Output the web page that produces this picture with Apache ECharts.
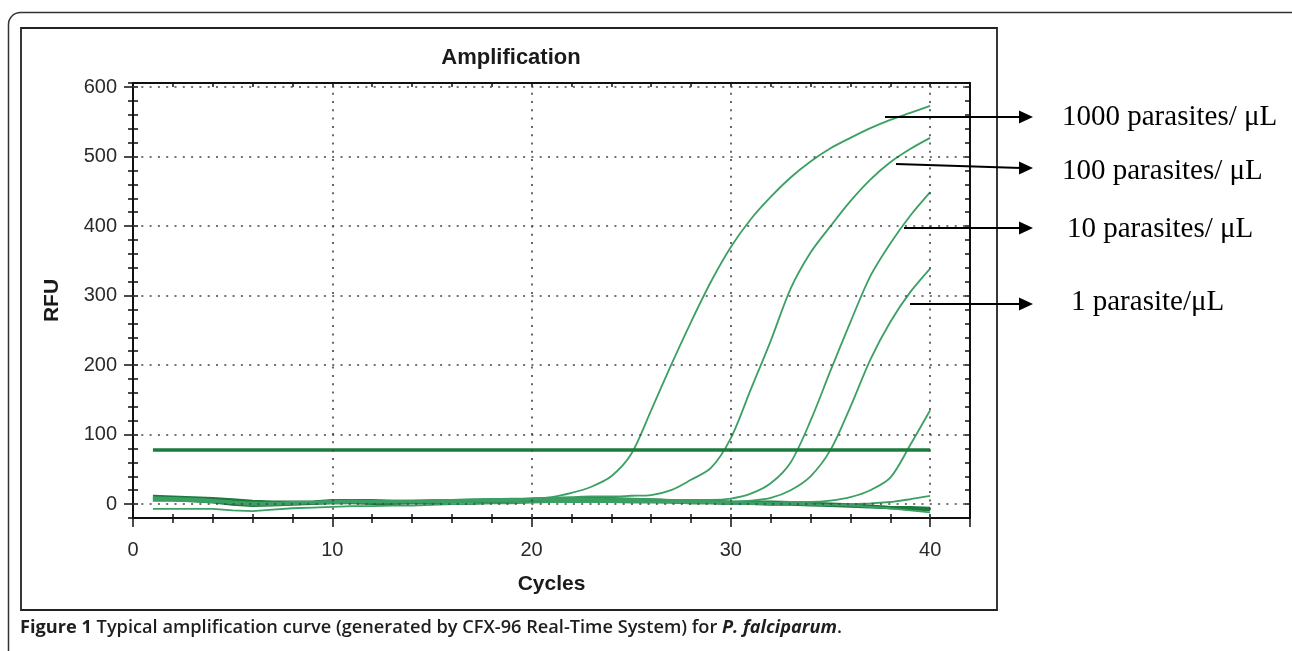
<!DOCTYPE html>
<html><head><meta charset="utf-8">
<script src="https://cdn.jsdelivr.net/npm/echarts@6/dist/echarts.min.js"></script>
<style>html,body{margin:0;padding:0;background:#fff}#c{width:1292px;height:651px}</style>
</head><body><div id="c"></div>
<script>
// ---- data ----
const cycles = [1,2,3,4,5,6,7,8,9,10,11,12,13,14,15,16,17,18,19,20,21,22,23,24,25,26,27,28,29,30,31,32,33,34,35,36,37,38,39,40];
const rfu1000 = [10,9,8,6,4,2,2,3,3,5,5,4,4,4,5,6,6,7,7,8,10,16,25,40,72,135,200,262,320,370,410,442,470,493,512,527,541,553,563,573];
const rfu100  = [8,8,7,5,3,1,1,2,3,4,4,4,3,4,5,5,6,6,7,8,9,10,11,11,12,13,20,35,52,95,165,235,310,362,400,436,467,492,511,527];
const rfu10   = [7,7,6,5,3,2,1,1,2,3,3,3,3,3,4,4,5,5,6,6,7,7,8,8,7,7,6,6,6,8,15,30,60,120,192,262,328,375,415,449];
const rfu1    = [6,6,5,4,2,0,0,1,2,2,3,3,3,3,3,4,4,5,5,6,6,6,6,5,5,4,4,4,3,3,5,9,20,40,78,140,208,262,305,339];
const rfuLate = [5,5,4,3,1,-1,-1,0,1,1,2,2,2,2,2,3,3,4,4,5,5,5,4,4,3,3,3,2,2,2,2,2,3,3,5,10,20,38,85,135];
const rfuNegA = [-7,-7,-7,-7,-9,-10,-8,-6,-5,-4,-3,-3,-2,-2,-1,0,0,1,1,2,3,3,3,3,2,2,2,1,1,0,0,0,0,-1,-1,0,1,3,7,12];
const rfuNegB = [9,8,7,5,3,1,1,2,3,4,5,5,5,5,6,6,7,7,8,8,9,9,8,8,7,6,6,5,4,3,2,2,1,0,-1,-2,-4,-6,-9,-12];
const rfuNegC = [11,10,9,8,6,4,3,3,3,5,5,5,4,4,4,5,5,6,6,7,8,8,9,8,7,6,5,5,4,3,3,3,2,1,0,-1,-3,-5,-7,-8];
const rfuNegD = [6,6,5,3,0,-2,-1,0,1,2,2,1,1,2,2,3,3,4,4,5,5,6,6,5,4,4,3,2,2,1,1,0,0,-1,-2,-3,-4,-5,-5,-6];
const thresholdCycles = [1, 40];
const thresholdRfu = [78, 78];
const xTickLabels = [0, 10, 20, 30, 40];
const yTickLabels = [0, 100, 200, 300, 400, 500, 600];
const xGridCycles = [10, 20, 30, 40];
const yGridRfu = [0, 100, 200, 300, 400, 500, 600];
const curveLabels = ['1000 parasites/ μL', '100 parasites/ μL', '10 parasites/ μL', '1 parasite/μL'];
const titleText = 'Amplification';
const xName = 'Cycles';
const yName = 'RFU';

// ---- layout (annotation positions, pixels) ----
const arrowLayout = [[885,117,1033,117],[896,164,1033,168],[904,228,1033,228],[910,304,1033,304]];
const labelLayout = [[1062,117],[1062,171],[1067,229],[1071,302]];

const pairs = ys => cycles.map((c, i) => [c, ys[i]]);
const light = '#3c9f64', dark = '#1b7a3c';
function curve(name, ys, color, width, smooth, z) {
  return {type:'line', name, data:pairs(ys), showSymbol:false, symbol:'none', smooth:smooth,
    lineStyle:{color, width}, z:z, silent:true, animation:false};
}
const series = [
  {type:'line', name:'grid', data:[], silent:true, animation:false, z:1,
   markLine:{silent:true, animation:false, symbol:['none','none'], label:{show:false},
     lineStyle:{color:'#444', width:1.6, type:[2,6.3]},
     emphasis:{disabled:true},
     data:[...xGridCycles.map(v=>({xAxis:v})), ...yGridRfu.map(v=>({yAxis:v}))]}},
  curve('negC', rfuNegC, dark, 3.2, false, 2),
  curve('negD', rfuNegD, dark, 3.2, false, 2),
  curve('negA', rfuNegA, light, 1.8, false, 3),
  curve('negB', rfuNegB, light, 1.8, false, 3),
  curve('late', rfuLate, light, 1.8, 0.3, 3),
  curve('1', rfu1, light, 1.8, 0.3, 3),
  curve('10', rfu10, light, 1.8, 0.3, 3),
  curve('100', rfu100, light, 1.8, 0.3, 3),
  curve('1000', rfu1000, light, 1.8, 0.3, 3),
  {type:'line', name:'threshold', data:thresholdCycles.map((c,i)=>[c, thresholdRfu[i]]), showSymbol:false, symbol:'none',
   lineStyle:{color:dark, width:3.5}, z:4, silent:true, animation:false}
];

const axLine = {color:'#111', width:2};
const tickStyle = {color:'#111', width:1.5};
const labelFont = {fontSize:20, fontFamily:'Liberation Sans, Arial, sans-serif', color:'#2a2a2a'};
const nameFont = {fontSize:21, fontWeight:'bold', fontFamily:'Liberation Sans, Arial, sans-serif', color:'#1a1a1a'};
const xBase = {type:'value', min:0, max:42, splitLine:{show:false}};
const yBase = {type:'value', min:-20, max:606, splitLine:{show:false}};

const graphic = [
  {type:'rect', z:-10, shape:{x:8.5, y:12.5, width:1320, height:680, r:12}, style:{fill:'none', stroke:'#333', lineWidth:1.5}, silent:true},
  {type:'rect', z:-10, shape:{x:21, y:28, width:976, height:582}, style:{fill:'none', stroke:'#222', lineWidth:1.8}, silent:true},
  {type:'text', z:10, x:511, y:58, style:{text:titleText, fontSize:22, fontWeight:'bold', fontFamily:'Liberation Sans, Arial, sans-serif', fill:'#1a1a1a', align:'center', verticalAlign:'middle'}, silent:true},
  {type:'text', z:10, x:20, y:628, style:{
     text:'{b|Figure 1} Typical amplification curve (generated by CFX-96 Real-Time System) for {i|P. falciparum}.',
     rich:{b:{fontWeight:'bold', fontSize:18.2, fontFamily:'Open Sans', fill:'#1e1e1e'}, i:{fontStyle:'italic', fontWeight:'bold', fontSize:18.2, fontFamily:'Open Sans', fill:'#1e1e1e'}},
     fontSize:18.2, fontWeight:600, fontFamily:'Open Sans', fill:'#1e1e1e', verticalAlign:'middle', align:'left'}, silent:true}
];
arrowLayout.forEach(([x1,y1,x2,y2]) => {
  graphic.push({type:'line', z:20, shape:{x1, y1, x2:x2-12, y2}, style:{stroke:'#000', lineWidth:2}, silent:true});
  graphic.push({type:'polygon', z:20, shape:{points:[[x2,y2],[x2-14,y2-6.5],[x2-14,y2+6.5]]}, style:{fill:'#000'}, silent:true});
});
curveLabels.forEach((t, i) => {
  graphic.push({type:'text', z:20, x:labelLayout[i][0], y:labelLayout[i][1], style:{text:t, fontSize:29, fontFamily:'Liberation Serif, Times New Roman, serif', fill:'#000', align:'left', verticalAlign:'middle'}, silent:true});
});

const option = {
  animation:false,
  backgroundColor:'#fff',
  grid:{left:133, right:322, top:83, bottom:133, containLabel:false},
  xAxis:[
    Object.assign({}, xBase, {interval:2, position:'bottom',
      axisLine:{show:true, onZero:false, lineStyle:axLine},
      axisTick:{show:true, length:5, lineStyle:tickStyle},
      axisLabel:Object.assign({show:true, margin:22, formatter:v => xTickLabels.includes(v) ? String(v) : ''}, labelFont),
      name:xName, nameLocation:'middle', nameGap:56, nameTextStyle:nameFont}),
    Object.assign({}, xBase, {interval:2, position:'bottom', axisLine:{show:false, onZero:false},
      axisTick:{show:true, inside:true, length:4, lineStyle:tickStyle}, axisLabel:{show:false}}),
    Object.assign({}, xBase, {interval:10, position:'bottom', axisLine:{show:false, onZero:false},
      axisTick:{show:true, length:9, lineStyle:tickStyle}, axisLabel:{show:false}}),
    Object.assign({}, xBase, {interval:2, position:'top', axisLine:{show:true, onZero:false, lineStyle:axLine},
      axisTick:{show:true, inside:true, length:4, lineStyle:tickStyle}, axisLabel:{show:false}})
  ],
  yAxis:[
    Object.assign({}, yBase, {interval:20, position:'left',
      axisLine:{show:true, onZero:false, lineStyle:axLine},
      axisTick:{show:true, length:5, lineStyle:tickStyle},
      axisLabel:Object.assign({show:true, margin:16, formatter:v => yTickLabels.includes(v) ? String(v) : ''}, labelFont),
      name:yName, nameLocation:'middle', nameGap:70, nameRotate:90, nameTextStyle:nameFont}),
    Object.assign({}, yBase, {interval:20, position:'left', axisLine:{show:false, onZero:false},
      axisTick:{show:true, inside:true, length:5, lineStyle:tickStyle}, axisLabel:{show:false}}),
    Object.assign({}, yBase, {position:'left', axisLine:{show:false, onZero:false},
      axisTick:{show:true, length:9, customValues:yTickLabels, lineStyle:tickStyle}, axisLabel:{show:false}}),
    Object.assign({}, yBase, {interval:20, position:'right', axisLine:{show:true, onZero:false, lineStyle:axLine},
      axisTick:{show:true, inside:true, length:5, lineStyle:tickStyle}, axisLabel:{show:false}})
  ],
  series,
  graphic
};
const chart = echarts.init(document.getElementById('c'), null, {renderer:'canvas'});
chart.setOption(option);
</script></body></html>
